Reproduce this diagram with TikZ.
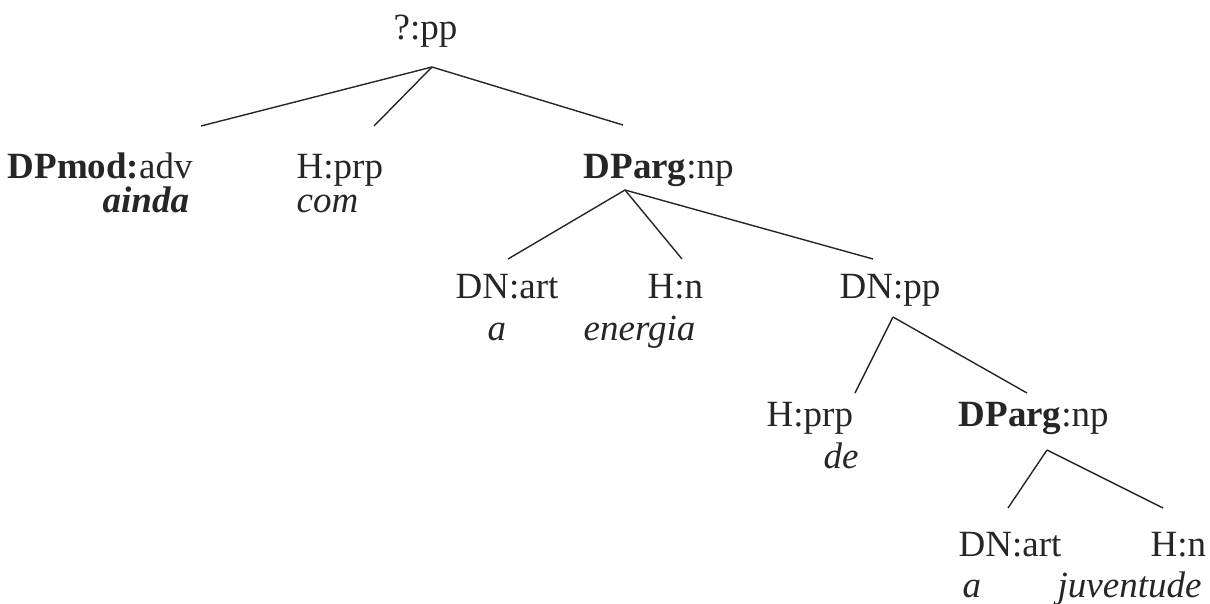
\documentclass[tikz,border=0pt]{standalone}
\usepackage{fontspec}
\setmainfont{Liberation Serif}
\usepackage{tikz}

\begin{document}
\begin{tikzpicture}[
                x=1pt, y=-1pt,
                every node/.style={
                  inner sep=0pt,
                  anchor=base west,
                  text=black!85,
                  font=\fontsize{37}{44}\selectfont,
                },
                line width=1.4pt,
                draw=black!85,
              ]
              \useasboundingbox (0,0) rectangle (1210,603) ;
              % labels
              \node (pp) at (393,39) {?:pp} ;
              \node (dpmod) at (7,178) {\textbf{DPmod:}adv} ;
              \node (ainda) at (102,212) {\textbf{\textit{ainda}}} ;
              \node (hprpa) at (296,178) {H:prp} ;
              \node (com) at (296,212) {\textit{com}} ;
              \node (dparga) at (583,178) {\textbf{DParg}:np} ;
              \node (dnarta) at (455,298) {DN:art} ;
              \node (aa) at (487,340) {\textit{a}} ;
              \node (hna) at (647,298) {H:n} ;
              \node (energia) at (583,340) {\textit{energia}} ;
              \node (dnpp) at (839,298) {DN:pp} ;
              \node (hprpb) at (766,426) {H:prp} ;
              \node (de) at (823,468) {\textit{de}} ;
              \node (dpargb) at (958,426) {\textbf{DParg}:np} ;
              \node (dnartb) at (958,556) {DN:art} ;
              \node (ab) at (962,597) {\textit{a}} ;
              \node (hnb) at (1150,556) {H:n} ;
              \node (juventude) at (1057,597) {\textit{juventude}} ;
              % branch points
              \coordinate (pp-foot) at (432,67) ;
              \coordinate (dpmod-top) at (201,126) ;
              \coordinate (hprpa-top) at (374,126) ;
              \coordinate (dparga-top) at (623,125) ;
              \coordinate (dparga-foot) at (625,190) ;
              \coordinate (dnarta-top) at (508,259) ;
              \coordinate (hna-top) at (682,259) ;
              \coordinate (dnpp-top) at (873,259) ;
              \coordinate (dnpp-foot) at (893,317) ;
              \coordinate (hprpb-top) at (855,393) ;
              \coordinate (dpargb-top) at (1027,393) ;
              \coordinate (dpargb-foot) at (1047,450) ;
              \coordinate (dnartb-top) at (1008,508) ;
              \coordinate (hnb-top) at (1163,508) ;
              \draw (pp-foot)--(dpmod-top) ;
              \draw (pp-foot)--(hprpa-top) ;
              \draw (pp-foot)--(dparga-top) ;
              \draw (dparga-foot)--(dnarta-top) ;
              \draw (dparga-foot)--(hna-top) ;
              \draw (dparga-foot)--(dnpp-top) ;
              \draw (dnpp-foot)--(hprpb-top) ;
              \draw (dnpp-foot)--(dpargb-top) ;
              \draw (dpargb-foot)--(dnartb-top) ;
              \draw (dpargb-foot)--(hnb-top) ;
              \end{tikzpicture}
\end{document}
